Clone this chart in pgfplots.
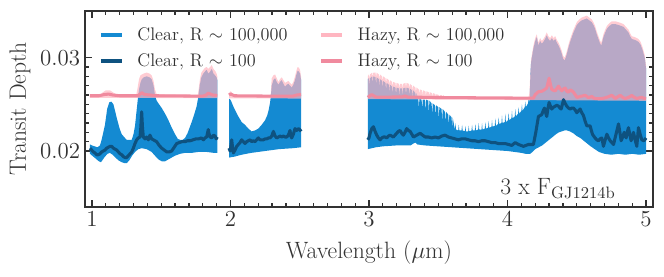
\documentclass[border=0pt]{standalone}
\usepackage{fix-cm}
\usepackage{pgfplots}
\pgfplotsset{compat=1.18}
\definecolor{clearhi}{RGB}{20,138,210}
\definecolor{clearlo}{RGB}{14,82,128}
\definecolor{hazyhi}{RGB}{255,182,193}
\definecolor{hazylo}{RGB}{240,138,158}
\definecolor{axgray}{RGB}{50,50,50}
\begin{document}
\begin{tikzpicture}
\begin{axis}[
  name=ax,
  scale only axis, width=408.96pt, height=141.12pt,
  xmin=0.95, xmax=5.05, ymin=0.014, ymax=0.035,
  xtick={1,2,3,4,5}, minor x tick num=9,
  ytick={0.02,0.03}, minor y tick num=9,
  tick align=inside,
  major tick length=5pt, minor tick length=2.6pt,
  scaled y ticks=false,
  yticklabel style={/pgf/number format/.cd,fixed,fixed zerofill,precision=2},
  tick label style={font=\fontsize{16.5}{20}\selectfont, text=axgray},
  label style={font=\fontsize{17}{20}\selectfont, text=axgray},
  xlabel={Wavelength ($\mu$m)}, ylabel={Transit Depth},
  xlabel style={at={(axis description cs:0.5,-0.2617)}, anchor=base},
  ylabel style={at={(axis description cs:-0.1144,0.5)}, anchor=center},
  axis line style={line width=1.3pt, axgray},
  every tick/.style={axgray, line width=0.9pt},
  legend columns=2,
  legend cell align=left,
  legend image code/.code={\draw[#1] (0pt,0pt) -- (15pt,0pt);},
  legend style={at={(axis description cs:0.017,0.945)}, anchor=north west,
    draw=none, fill=none, font=\fontsize{13.1}{15}\selectfont, text=axgray,
    row sep=4pt,
    /tikz/every odd column/.append style={column sep=8pt},
    /tikz/every even column/.append style={column sep=21pt}},
]
% ---------- Clear R~100,000 (filled band) ----------
\addplot[fill=clearhi, draw=none, forget plot] coordinates {
(0.986,0.0207)(1.000,0.0206)(1.020,0.0205)(1.040,0.0204)(1.058,0.0206)(1.070,0.0212)(1.082,0.0220)(1.094,0.0228)(1.110,0.0245)(1.125,0.0252)(1.140,0.0253)(1.155,0.0250)(1.167,0.0243)(1.180,0.0235)(1.200,0.0224)(1.215,0.0218)(1.250,0.0212)(1.287,0.0212)(1.300,0.0218)(1.311,0.0227)(1.323,0.0244)(1.333,0.0258)(1.340,0.0266)(1.350,0.0273)(1.360,0.0277)(1.375,0.0279)(1.395,0.0280)(1.415,0.0279)(1.431,0.0277)(1.445,0.0270)(1.455,0.0260)(1.467,0.0254)(1.485,0.0250)(1.504,0.0246)(1.528,0.0240)(1.552,0.0233)(1.576,0.0225)(1.600,0.0218)(1.620,0.0213)(1.636,0.0212)(1.655,0.0212)(1.672,0.0214)(1.690,0.0219)(1.705,0.0225)(1.720,0.0231)(1.740,0.0240)(1.756,0.0248)(1.768,0.0258)(1.778,0.0270)(1.790,0.0279)(1.804,0.0283)(1.815,0.0285)(1.828,0.0287)(1.840,0.0283)(1.853,0.0285)(1.865,0.0288)(1.877,0.0283)(1.889,0.0281)(1.900,0.0279)(1.905,0.0276)
(1.905,0.0198)(1.880,0.0198)(1.828,0.0199)(1.768,0.0199)(1.720,0.0198)(1.672,0.0198)(1.636,0.0197)(1.600,0.0195)(1.576,0.0193)(1.552,0.0191)(1.528,0.0189)(1.504,0.0189)(1.480,0.0191)(1.455,0.0195)(1.431,0.0199)(1.395,0.0202)(1.360,0.0203)(1.335,0.0202)(1.311,0.0199)(1.290,0.0195)(1.270,0.0190)(1.251,0.0187)(1.235,0.0187)(1.215,0.0188)(1.191,0.0190)(1.170,0.0193)(1.150,0.0196)(1.130,0.0198)(1.113,0.0197)(1.094,0.0194)(1.075,0.0190)(1.065,0.0188)(1.050,0.0189)(1.034,0.0191)(1.010,0.0194)(0.986,0.0197)
};
\addplot[fill=clearhi, draw=none, forget plot] coordinates {
(1.990,0.0256)(2.000,0.0255)(2.009,0.0252)(2.020,0.0248)(2.033,0.0244)(2.057,0.0237)(2.081,0.0231)(2.105,0.0228)(2.129,0.0224)(2.153,0.0221)(2.177,0.0222)(2.201,0.0224)(2.225,0.0228)(2.250,0.0233)(2.265,0.0238)(2.276,0.0244)(2.286,0.0252)(2.292,0.0260)(2.298,0.0270)(2.310,0.0276)(2.322,0.0278)(2.334,0.0274)(2.346,0.0271)(2.358,0.0274)(2.370,0.0276)(2.382,0.0272)(2.394,0.0269)(2.406,0.0271)(2.418,0.0272)(2.430,0.0270)(2.442,0.0268)(2.454,0.0271)(2.466,0.0276)(2.476,0.0282)(2.485,0.0286)(2.495,0.0285)(2.502,0.0283)(2.510,0.0276)
(2.510,0.0204)(2.450,0.0203)(2.350,0.0202)(2.250,0.0200)(2.150,0.0198)(2.080,0.0196)(2.030,0.0194)(1.990,0.0193)
};
\addplot[fill=clearhi, draw=none, forget plot] coordinates {
(2.991,0.0277)
(2.999,0.0278)(3.003,0.0270)(3.007,0.0278)(3.023,0.0280)(3.027,0.0272)(3.031,0.0280)(3.047,0.0279)(3.051,0.0271)(3.055,0.0279)(3.071,0.0277)(3.075,0.0269)(3.079,0.0277)(3.095,0.0275)(3.099,0.0267)(3.103,0.0275)(3.119,0.0273)(3.123,0.0265)(3.127,0.0273)(3.143,0.0271)(3.147,0.0263)(3.151,0.0271)(3.167,0.0269)(3.171,0.0261)(3.175,0.0269)(3.191,0.0268)(3.195,0.0260)(3.199,0.0268)(3.215,0.0267)(3.219,0.0259)(3.223,0.0267)(3.239,0.0267)(3.243,0.0259)(3.247,0.0267)(3.263,0.0268)(3.267,0.0260)(3.271,0.0268)(3.287,0.0267)(3.291,0.0259)(3.295,0.0267)(3.311,0.0265)(3.315,0.0257)(3.319,0.0265)(3.335,0.0262)(3.339,0.0254)(3.343,0.0262)(3.352,0.0257)
(3.356,0.0256)(3.360,0.0246)(3.364,0.0256)(3.380,0.0255)(3.384,0.0244)(3.388,0.0255)(3.404,0.0255)(3.408,0.0241)(3.412,0.0255)(3.428,0.0254)(3.432,0.0240)(3.436,0.0254)(3.452,0.0251)(3.456,0.0238)(3.460,0.0251)(3.476,0.0249)(3.480,0.0236)(3.484,0.0249)(3.500,0.0247)(3.504,0.0233)(3.508,0.0247)(3.524,0.0245)(3.528,0.0231)(3.532,0.0245)(3.548,0.0242)(3.552,0.0229)(3.556,0.0242)(3.572,0.0239)(3.576,0.0227)(3.580,0.0239)(3.596,0.0236)(3.600,0.0225)(3.604,0.0236)
(3.620,0.0223)(3.624,0.0230)(3.628,0.0223)(3.644,0.0222)(3.648,0.0228)(3.652,0.0222)(3.668,0.0222)(3.672,0.0228)(3.676,0.0222)(3.692,0.0221)(3.696,0.0227)(3.700,0.0221)(3.716,0.0221)(3.720,0.0227)(3.724,0.0221)(3.740,0.0222)(3.744,0.0228)(3.748,0.0222)(3.764,0.0222)(3.768,0.0229)(3.772,0.0222)(3.788,0.0223)(3.792,0.0230)(3.796,0.0223)(3.812,0.0223)(3.816,0.0230)(3.820,0.0223)(3.836,0.0224)(3.840,0.0231)(3.844,0.0224)(3.860,0.0225)(3.864,0.0232)(3.868,0.0225)(3.884,0.0226)(3.888,0.0233)(3.892,0.0226)(3.908,0.0227)(3.912,0.0235)(3.916,0.0227)(3.932,0.0229)(3.936,0.0236)(3.940,0.0229)(3.956,0.0230)(3.960,0.0238)(3.964,0.0230)(3.980,0.0231)(3.984,0.0240)(3.988,0.0231)(4.004,0.0233)(4.008,0.0241)(4.012,0.0233)(4.028,0.0235)(4.032,0.0243)(4.036,0.0235)(4.052,0.0237)(4.056,0.0245)(4.060,0.0237)(4.076,0.0240)(4.080,0.0247)(4.084,0.0240)(4.100,0.0243)(4.104,0.0250)(4.108,0.0243)(4.124,0.0247)(4.128,0.0253)(4.132,0.0247)(4.148,0.0251)(4.152,0.0256)(4.156,0.0252)(4.160,0.0256)
(4.165,0.0282)(4.170,0.0295)(4.187,0.0310)(4.200,0.0318)(4.211,0.0322)(4.223,0.0313)(4.235,0.0318)(4.247,0.0315)(4.259,0.0317)(4.271,0.0320)(4.283,0.0324)(4.295,0.0320)(4.307,0.0318)(4.320,0.0321)(4.332,0.0318)(4.344,0.0320)(4.356,0.0316)(4.368,0.0313)(4.380,0.0309)(4.392,0.0304)(4.401,0.0299)(4.411,0.0297)(4.420,0.0300)(4.428,0.0304)(4.440,0.0311)(4.452,0.0317)(4.464,0.0322)(4.476,0.0327)(4.488,0.0331)(4.500,0.0335)(4.518,0.0338)(4.536,0.0340)(4.554,0.0341)(4.572,0.0342)(4.590,0.0340)(4.608,0.0338)(4.620,0.0335)(4.632,0.0331)(4.644,0.0325)(4.656,0.0320)(4.666,0.0316)(4.676,0.0313)(4.684,0.0317)(4.692,0.0322)(4.705,0.0327)(4.717,0.0331)(4.735,0.0334)(4.753,0.0336)(4.777,0.0336)(4.801,0.0335)(4.820,0.0334)(4.837,0.0333)(4.855,0.0330)(4.873,0.0327)(4.885,0.0323)(4.897,0.0320)(4.920,0.0319)(4.945,0.0317)(4.960,0.0314)(4.975,0.0308)(4.990,0.0300)(5.000,0.0288)
(5.000,0.0197)(4.950,0.0196)(4.900,0.0197)(4.850,0.0196)(4.800,0.0197)(4.750,0.0196)(4.700,0.0197)(4.660,0.0199)(4.640,0.0201)(4.620,0.0203)(4.600,0.0205)(4.575,0.0208)(4.550,0.0211)(4.525,0.0214)(4.500,0.0216)(4.475,0.0219)(4.450,0.0221)(4.430,0.0222)(4.410,0.0222)(4.390,0.0221)(4.370,0.0220)(4.350,0.0218)(4.325,0.0215)(4.300,0.0212)(4.275,0.0209)(4.250,0.0206)(4.225,0.0204)(4.200,0.0202)(4.180,0.0199)(4.163,0.0197)(4.130,0.0197)(4.100,0.0198)(4.050,0.0199)(4.000,0.0200)(3.900,0.0201)(3.800,0.0202)(3.700,0.0203)(3.600,0.0204)(3.500,0.0205)(3.400,0.0206)(3.350,0.0207)(3.335,0.0209)(3.320,0.0208)(3.300,0.0206)(3.200,0.0206)(3.100,0.0205)(3.050,0.0204)(2.991,0.0202)
};
% ---------- Hazy R~100,000 (filled, translucent) ----------
\addplot[fill=hazyhi, fill opacity=0.7, draw=none, forget plot] coordinates {
(0.986,0.0260)(1.060,0.0260)(1.080,0.0263)(1.100,0.0265)(1.130,0.0265)(1.160,0.0262)(1.190,0.0260)(1.320,0.0260)(1.330,0.0268)(1.340,0.0277)(1.350,0.0281)(1.360,0.0282)(1.375,0.0283)(1.395,0.0284)(1.415,0.0283)(1.431,0.0281)(1.445,0.0275)(1.455,0.0266)(1.467,0.0261)(1.765,0.0260)(1.772,0.0268)(1.780,0.0277)(1.790,0.0284)(1.804,0.0287)(1.815,0.0289)(1.828,0.0290)(1.840,0.0288)(1.853,0.0290)(1.865,0.0292)(1.877,0.0288)(1.889,0.0286)(1.900,0.0283)(1.905,0.0280)
(1.905,0.02566)(0.986,0.02570)
};
\addplot[fill=hazyhi, fill opacity=0.7, draw=none, forget plot] coordinates {
(1.990,0.0262)(2.000,0.0264)(2.010,0.0263)(2.020,0.0260)(2.290,0.0260)(2.298,0.0278)(2.310,0.0281)(2.322,0.0282)(2.334,0.0278)(2.346,0.0274)(2.358,0.0277)(2.370,0.0279)(2.382,0.0276)(2.394,0.0273)(2.406,0.0274)(2.418,0.0275)(2.430,0.0273)(2.442,0.0271)(2.454,0.0274)(2.466,0.0280)(2.476,0.0286)(2.485,0.0290)(2.495,0.0289)(2.502,0.0287)(2.510,0.0279)
(2.510,0.02562)(1.990,0.02565)
};
\addplot[fill=hazyhi, fill opacity=0.7, draw=none, forget plot] coordinates {
(2.991,0.0280)
(2.999,0.0282)(3.003,0.0277)(3.007,0.0282)(3.023,0.0284)(3.027,0.0279)(3.031,0.0284)(3.047,0.0284)(3.051,0.0279)(3.055,0.0284)(3.071,0.0282)(3.075,0.0277)(3.079,0.0282)(3.095,0.0280)(3.099,0.0275)(3.103,0.0280)(3.119,0.0278)(3.123,0.0273)(3.127,0.0278)(3.143,0.0276)(3.147,0.0271)(3.151,0.0276)(3.167,0.0274)(3.171,0.0269)(3.175,0.0274)(3.191,0.0273)(3.195,0.0268)(3.199,0.0273)(3.215,0.0272)(3.219,0.0267)(3.223,0.0272)(3.239,0.0272)(3.243,0.0267)(3.247,0.0272)(3.263,0.0273)(3.267,0.0268)(3.271,0.0273)(3.287,0.0272)(3.291,0.0267)(3.295,0.0272)(3.311,0.0270)(3.315,0.0265)(3.319,0.0270)(3.335,0.0268)(3.339,0.0263)(3.343,0.0268)(3.359,0.0266)(3.363,0.0261)(3.367,0.0266)(3.383,0.0265)(3.387,0.0260)(3.391,0.0265)(3.407,0.0264)(3.411,0.0259)(3.415,0.0264)(3.431,0.0263)(3.435,0.0259)(3.439,0.0263)(3.455,0.0262)(3.459,0.0258)(3.463,0.0262)(3.479,0.0261)(3.483,0.0258)(3.487,0.0261)(3.503,0.0260)(3.507,0.0257)(3.511,0.0260)(3.527,0.0260)(3.531,0.0257)(3.535,0.0260)(3.548,0.0258)(4.150,0.0257)(4.158,0.0262)
(4.165,0.0285)(4.170,0.0298)(4.187,0.0313)(4.200,0.0321)(4.211,0.0325)(4.223,0.0316)(4.235,0.0321)(4.247,0.0318)(4.259,0.0320)(4.271,0.0323)(4.283,0.0327)(4.295,0.0323)(4.307,0.0321)(4.320,0.0324)(4.332,0.0321)(4.344,0.0323)(4.356,0.0319)(4.368,0.0316)(4.380,0.0312)(4.392,0.0307)(4.401,0.0302)(4.411,0.0300)(4.420,0.0303)(4.428,0.0307)(4.440,0.0314)(4.452,0.0320)(4.464,0.0325)(4.476,0.0330)(4.488,0.0334)(4.500,0.0338)(4.518,0.0341)(4.536,0.0343)(4.554,0.0344)(4.572,0.0345)(4.590,0.0343)(4.608,0.0341)(4.620,0.0338)(4.632,0.0334)(4.644,0.0328)(4.656,0.0323)(4.666,0.0319)(4.676,0.0316)(4.684,0.0320)(4.692,0.0325)(4.705,0.0330)(4.717,0.0334)(4.735,0.0337)(4.753,0.0339)(4.777,0.0339)(4.801,0.0338)(4.820,0.0337)(4.837,0.0336)(4.855,0.0333)(4.873,0.0330)(4.885,0.0326)(4.897,0.0323)(4.920,0.0322)(4.945,0.0320)(4.960,0.0317)(4.975,0.0311)(4.990,0.0303)(5.000,0.0291)
(5.000,0.02538)(4.000,0.02547)(2.991,0.02556)
};
% ---------- Clear R~100 ----------
\addplot[clearlo, line width=2.2pt, line join=round, forget plot] coordinates {
(0.986,0.0203)(0.998,0.0201)(1.010,0.0199)(1.022,0.0198)(1.034,0.0196)(1.046,0.0196)(1.058,0.0197)(1.070,0.0199)(1.082,0.0200)(1.094,0.0201)(1.106,0.0203)(1.118,0.0204)(1.130,0.0205)(1.143,0.0205)(1.155,0.0203)(1.167,0.0202)(1.179,0.0201)(1.191,0.0199)(1.203,0.0197)(1.215,0.0196)(1.227,0.0194)(1.239,0.0193)(1.251,0.0193)(1.263,0.0195)(1.275,0.0197)(1.287,0.0199)(1.299,0.0203)(1.311,0.0208)(1.323,0.0212)(1.335,0.0214)(1.347,0.0215)(1.353,0.0225)(1.359,0.0242)(1.365,0.0225)(1.371,0.0215)(1.383,0.0213)(1.395,0.0215)(1.407,0.0212)(1.419,0.0217)(1.431,0.0213)(1.443,0.0212)(1.455,0.0211)(1.467,0.0210)(1.485,0.0206)(1.504,0.0203)(1.522,0.0201)(1.540,0.0199)(1.558,0.0199)(1.576,0.0200)(1.594,0.0204)(1.612,0.0208)(1.630,0.0209)(1.650,0.0210)(1.672,0.0210)(1.690,0.0211)(1.710,0.0211)(1.730,0.0212)(1.750,0.0213)(1.770,0.0213)(1.790,0.0214)(1.805,0.0212)(1.816,0.0214)(1.828,0.0215)(1.834,0.0219)(1.840,0.0223)(1.846,0.0218)(1.853,0.0215)(1.865,0.0214)(1.877,0.0217)(1.889,0.0216)(1.897,0.0213)(1.905,0.0215)
};
\addplot[clearlo, line width=2.2pt, line join=round, forget plot] coordinates {
(1.990,0.0203)(1.997,0.0200)(2.003,0.0205)(2.009,0.0212)(2.015,0.0204)(2.021,0.0198)(2.033,0.0201)(2.045,0.0205)(2.057,0.0207)(2.069,0.0209)(2.081,0.0212)(2.093,0.0210)(2.105,0.0208)(2.117,0.0210)(2.129,0.0211)(2.141,0.0212)(2.153,0.0210)(2.165,0.0211)(2.177,0.0210)(2.189,0.0212)(2.201,0.0214)(2.213,0.0212)(2.225,0.0212)(2.238,0.0212)(2.250,0.0213)(2.262,0.0213)(2.274,0.0214)(2.286,0.0214)(2.298,0.0216)(2.310,0.0221)(2.322,0.0216)(2.334,0.0214)(2.346,0.0215)(2.358,0.0216)(2.370,0.0215)(2.382,0.0216)(2.394,0.0215)(2.406,0.0215)(2.418,0.0217)(2.430,0.0222)(2.436,0.0216)(2.442,0.0214)(2.454,0.0218)(2.466,0.0224)(2.478,0.0222)(2.490,0.0224)(2.500,0.0223)(2.510,0.0221)
};
\addplot[clearlo, line width=2.2pt, line join=round, forget plot] coordinates {
(2.991,0.0212)(3.000,0.0214)(3.008,0.0219)(3.020,0.0224)(3.032,0.0226)(3.044,0.0221)(3.056,0.0217)(3.068,0.0214)(3.080,0.0212)(3.092,0.0214)(3.104,0.0215)(3.116,0.0215)(3.128,0.0214)(3.140,0.0216)(3.152,0.0217)(3.164,0.0216)(3.176,0.0215)(3.188,0.0217)(3.200,0.0219)(3.212,0.0221)(3.224,0.0222)(3.236,0.0219)(3.248,0.0217)(3.260,0.0220)(3.272,0.0224)(3.284,0.0222)(3.297,0.0221)(3.309,0.0218)(3.321,0.0215)(3.333,0.0216)(3.345,0.0217)(3.357,0.0218)(3.369,0.0219)(3.387,0.0217)(3.405,0.0215)(3.429,0.0215)(3.453,0.0214)(3.477,0.0215)(3.501,0.0214)(3.525,0.0216)(3.549,0.0217)(3.573,0.0215)(3.597,0.0214)(3.621,0.0213)(3.645,0.0212)(3.669,0.0213)(3.694,0.0213)(3.718,0.0212)(3.742,0.0211)(3.766,0.0211)(3.790,0.0210)(3.814,0.0211)(3.838,0.0211)(3.862,0.0210)(3.886,0.0209)(3.910,0.0209)(3.934,0.0208)(3.958,0.0208)(3.982,0.0208)(4.007,0.0207)(4.031,0.0206)(4.055,0.0209)(4.079,0.0207)(4.097,0.0206)(4.115,0.0205)(4.133,0.0206)(4.151,0.0207)(4.170,0.0207)(4.187,0.0207)(4.204,0.0220)(4.223,0.0237)(4.235,0.0238)(4.247,0.0239)(4.257,0.0243)(4.267,0.0246)(4.275,0.0241)(4.283,0.0237)(4.291,0.0245)(4.300,0.0252)(4.310,0.0248)(4.319,0.0245)(4.332,0.0247)(4.344,0.0248)(4.356,0.0249)(4.368,0.0248)(4.378,0.0246)(4.387,0.0245)(4.396,0.0250)(4.404,0.0255)(4.416,0.0251)(4.428,0.0248)(4.440,0.0246)(4.452,0.0245)(4.464,0.0246)(4.476,0.0246)(4.488,0.0244)(4.500,0.0241)(4.512,0.0243)(4.524,0.0245)(4.536,0.0241)(4.548,0.0238)(4.560,0.0232)(4.572,0.0227)(4.584,0.0227)(4.596,0.0227)(4.605,0.0222)(4.613,0.0218)(4.622,0.0216)(4.632,0.0214)(4.644,0.0212)(4.656,0.0211)(4.668,0.0213)(4.680,0.0214)(4.686,0.0210)(4.692,0.0205)(4.705,0.0212)(4.717,0.0218)(4.729,0.0214)(4.741,0.0211)(4.753,0.0209)(4.765,0.0207)(4.783,0.0218)(4.801,0.0229)(4.811,0.0220)(4.820,0.0211)(4.831,0.0215)(4.842,0.0220)(4.849,0.0217)(4.856,0.0214)(4.864,0.0220)(4.873,0.0225)(4.882,0.0218)(4.892,0.0211)(4.900,0.0215)(4.909,0.0220)(4.921,0.0212)(4.933,0.0205)(4.939,0.0215)(4.945,0.0225)(4.957,0.0218)(4.969,0.0212)(4.985,0.0211)(5.000,0.0214)
};
% ---------- Hazy R~100 ----------
\addplot[hazylo, line width=2.2pt, line join=round, forget plot] coordinates {
(0.986,0.02592)(1.050,0.02592)(1.090,0.02605)(1.120,0.02610)(1.150,0.02600)(1.200,0.02592)(1.330,0.02592)(1.345,0.02605)(1.360,0.02625)(1.380,0.02605)(1.420,0.02600)(1.460,0.02592)(1.800,0.02588)(1.825,0.02600)(1.840,0.02620)(1.870,0.02600)(1.905,0.02595)
};
\addplot[hazylo, line width=2.2pt, line join=round, forget plot] coordinates {
(1.990,0.02600)(2.000,0.02610)(2.030,0.02592)(2.300,0.02588)(2.450,0.02588)(2.480,0.02600)(2.510,0.02605)
};
\addplot[hazylo, line width=2.2pt, line join=round, forget plot] coordinates {
(2.991,0.02575)(3.005,0.02590)(3.020,0.02605)(3.035,0.02590)(3.050,0.02578)(3.150,0.02578)(3.240,0.02580)(3.260,0.02590)(3.280,0.02578)(3.500,0.02573)(3.800,0.02570)(4.000,0.02568)(4.187,0.02566)(4.200,0.02605)(4.223,0.02635)(4.247,0.02640)(4.265,0.02655)(4.283,0.02675)(4.300,0.02780)(4.312,0.02700)(4.319,0.02660)(4.332,0.02650)(4.344,0.02645)(4.356,0.02670)(4.368,0.02695)(4.380,0.02665)(4.392,0.02645)(4.404,0.02665)(4.416,0.02675)(4.428,0.02640)(4.440,0.02630)(4.452,0.02655)(4.464,0.02645)(4.476,0.02630)(4.490,0.02600)(4.500,0.02575)(4.512,0.02578)(4.524,0.02585)(4.542,0.02590)(4.560,0.02597)(4.572,0.02585)(4.584,0.02572)(4.596,0.02578)(4.608,0.02585)(4.620,0.02570)(4.632,0.02562)(4.680,0.02562)(4.705,0.02570)(4.729,0.02582)(4.741,0.02590)(4.753,0.02597)(4.765,0.02580)(4.777,0.02562)(4.795,0.02580)(4.813,0.02597)(4.831,0.02575)(4.849,0.02562)(4.861,0.02568)(4.873,0.02575)(4.885,0.02585)(4.897,0.02595)(4.915,0.02575)(4.933,0.02562)(4.951,0.02570)(4.969,0.02575)(4.985,0.02565)(5.000,0.02562)
};
% ---------- legend ----------
\addlegendimage{clearhi, line width=2.6pt}
\addlegendentry{Clear, R $\sim$ 100,000}
\addlegendimage{hazyhi, line width=2.6pt}
\addlegendentry{Hazy, R $\sim$ 100,000}
\addlegendimage{clearlo, line width=2.6pt}
\addlegendentry{Clear, R $\sim$ 100}
\addlegendimage{hazylo, line width=2.6pt}
\addlegendentry{Hazy, R $\sim$ 100}
\node[anchor=base east, font=\fontsize{17}{20}\selectfont, text=axgray] at (axis cs:4.815,0.0153) {3 x F$_{\mathrm{GJ1214b}}$};
\end{axis}
\path ([xshift=-61.2pt,yshift=-49.68pt]ax.south west) rectangle ([xshift=7.92pt,yshift=7.92pt]ax.north east);
\end{tikzpicture}
\end{document}
